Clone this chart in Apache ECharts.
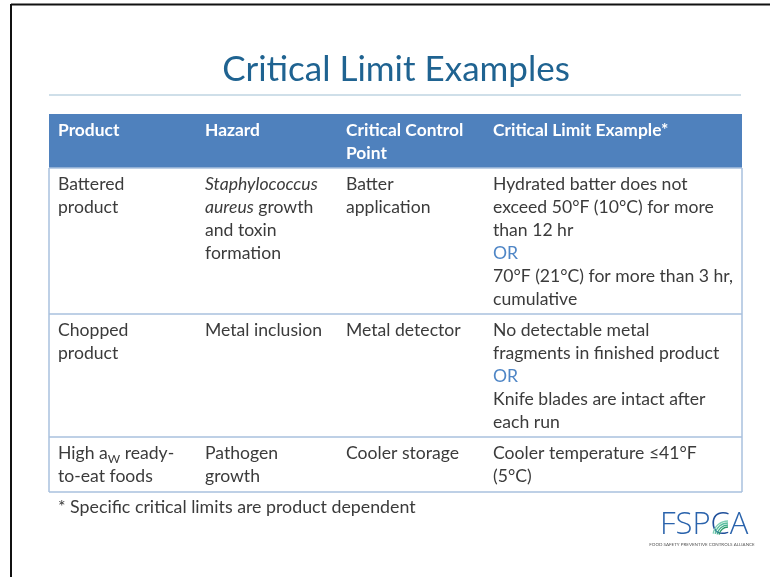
<!DOCTYPE html>
<html><head><meta charset="utf-8">
<script src="https://cdn.jsdelivr.net/npm/echarts@6/dist/echarts.min.js"></script>
<style>html,body{margin:0;padding:0;background:#fff}#c{width:770px;height:577px}</style>
</head><body><div id="c"></div>
<script>
const title = 'Critical Limit Examples';
const headers = ['Product', 'Hazard', 'Critical Control\nPoint', 'Critical Limit Example*'];
const products = ['Battered\nproduct', 'Chopped\nproduct', 'High a{sub|W} ready-\nto-eat foods'];
const hazards = ['{i|Staphylococcus}\n{i|aureus} growth\nand toxin\nformation', 'Metal inclusion', 'Pathogen\ngrowth'];
const controlPoints = ['Batter\napplication', 'Metal detector', 'Cooler storage'];
const limits = [
  'Hydrated batter does not\nexceed 50°F (10°C) for more\nthan 12 hr\n{or|OR}\n70°F (21°C) for more than 3 hr,\ncumulative',
  'No detectable metal\nfragments in finished product\n{or|OR}\nKnife blades are intact after\neach run',
  'Cooler temperature ≤41°F\n(5°C)'
];
const footnote = '* Specific critical limits are product dependent';
const logoText = 'FOOD SAFETY PREVENTIVE CONTROLS ALLIANCE';

const FONT = 'Lato, "Open Sans", sans-serif';
const colX = [58, 205, 346, 493];
const rowTops = [168, 314, 437, 492];
const tableL = 49, tableR = 742, headTop = 114, headBot = 168;
const LH = 23, FS = 17.6, TXT = '#3b3b3b', GRID = '#a9c0de';
const rich = {
  i: {fontStyle: 'italic', fontSize: FS, fontFamily: FONT, fill: TXT, lineHeight: LH},
  or: {fontSize: FS, fontFamily: FONT, fill: '#4f86c6', lineHeight: LH},
  sub: {fontSize: 12, fontFamily: FONT, fill: TXT, lineHeight: LH, verticalAlign: 'bottom', padding: [10, 0, 0, 0]}
};

const g = [];
// slide frame
g.push({type: 'rect', shape: {x: 0, y: 0, width: 770, height: 577}, style: {fill: '#fff'}});
g.push({type: 'line', shape: {x1: 11, y1: 4.5, x2: 770, y2: 4.5}, style: {stroke: '#111', lineWidth: 2}});
g.push({type: 'line', shape: {x1: 11, y1: 4, x2: 11, y2: 577}, style: {stroke: '#111', lineWidth: 2}});
// title
g.push({type: 'text', x: 396, y: 70, style: {text: title, font: '35px ' + FONT, fill: '#1f6391', align: 'center', verticalAlign: 'middle'}});
g.push({type: 'line', shape: {x1: 49, y1: 95, x2: 741, y2: 95}, style: {stroke: '#9fbfd3', lineWidth: 1.2}});
// header bar
g.push({type: 'rect', shape: {x: tableL, y: headTop, width: tableR - tableL, height: headBot - headTop}, style: {fill: '#4f81bd'}});
headers.forEach((h, k) => g.push({type: 'text', x: colX[k], y: 119, style: {text: h, fontSize: 17.4, fontWeight: 'bold', fontFamily: FONT, fill: '#fff', lineHeight: LH}}));
// grid lines
[headBot].concat(rowTops.slice(1)).forEach(y => g.push({type: 'line', shape: {x1: tableL, y1: y, x2: tableR, y2: y}, style: {stroke: GRID, lineWidth: 1.5}}));
[tableL, tableR].forEach(x => g.push({type: 'line', shape: {x1: x, y1: headBot, x2: x, y2: rowTops[3]}, style: {stroke: GRID, lineWidth: 1.5}}));
// body cells
const cols = [products, hazards, controlPoints, limits];
cols.forEach((col, k) => col.forEach((t, r) => g.push({
  type: 'text', x: colX[k], y: rowTops[r] + 5,
  style: {text: t, fontSize: FS, fontFamily: FONT, fill: TXT, lineHeight: LH, rich: rich}
})));
// footnote
g.push({type: 'text', x: 58, y: 496, style: {text: footnote, fontSize: 17.8, fontFamily: FONT, fill: TXT, lineHeight: LH}});
// logo
g.push({type: 'text', x: 660, y: 525, style: {text: '{a|FSP}{b|C}{a|A}', verticalAlign: 'middle', rich: {
  a: {fontSize: 31, fontFamily: '"Open Sans", sans-serif', fontWeight: 300, fill: '#2a63ac'},
  b: {fontSize: 31, fontFamily: '"Open Sans", sans-serif', fontWeight: 300, fill: '#1f4f9a'}
}}});
[['#2a9a6a', 9], ['#3fae8a', 11], ['#5cbf9f', 13], ['#7fcfb5', 15]].forEach(([c, r]) => g.push({
  type: 'arc', shape: {cx: 728, cy: 536, r: r, startAngle: Math.PI * 1.05, endAngle: Math.PI * 1.5}, style: {stroke: c, lineWidth: 1.3, fill: null}
}));
g.push({type: 'text', x: 702, y: 545, style: {text: logoText, fontSize: 4.5, fontFamily: FONT, fill: '#555', align: 'center', verticalAlign: 'middle'}});

const chart = echarts.init(document.getElementById('c'), null, {renderer: 'canvas'});
chart.setOption({animation: false, graphic: {elements: g}});
</script></body></html>
